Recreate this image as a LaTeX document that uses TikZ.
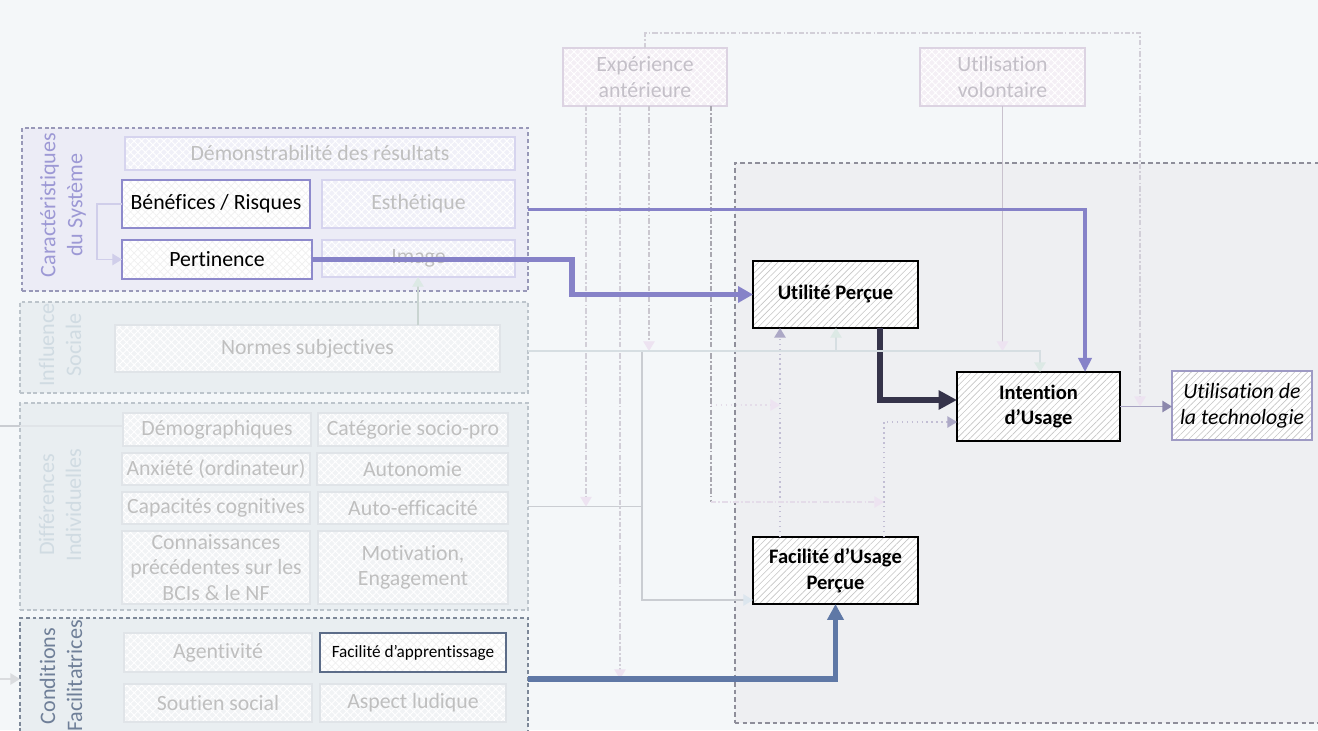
\documentclass[tikz,border=0pt]{standalone}
\usepackage{fontspec}
\setmainfont{Carlito}[Ligatures=NoCommon]
\usetikzlibrary{arrows.meta,patterns,patterns.meta,calc}
\definecolor{bg}{HTML}{F4F7F9}
\definecolor{rgfill}{HTML}{EEEFF2}
\definecolor{rgline}{HTML}{8E8E9A}
\definecolor{carfill}{HTML}{ECECF6}
\definecolor{carline}{HTML}{9898B8}
\definecolor{carlab}{HTML}{9D99D5}
\definecolor{soffill}{HTML}{E9EEF1}
\definecolor{sofline}{HTML}{BCC4CB}
\definecolor{soflab}{HTML}{D0DBE2}
\definecolor{conline}{HTML}{7D8898}
\definecolor{conlab}{HTML}{6F7F98}
\definecolor{paletext}{HTML}{BFBFBF}
\definecolor{paleline}{HTML}{E0E4E8}
\definecolor{palefill}{HTML}{F1F3F5}
\definecolor{carbox}{HTML}{D6D4EE}
\definecolor{carboxfill}{HTML}{F0F0F8}
\definecolor{pinkfill}{HTML}{F4EFF5}
\definecolor{pinkline}{HTML}{DCD3E2}
\definecolor{pinktext}{HTML}{C4C0C8}
\definecolor{purp}{HTML}{8682C8}
\definecolor{dark}{HTML}{35334A}
\definecolor{blu}{HTML}{5F78A6}
\definecolor{hl}{HTML}{8E8ACC}
\definecolor{hltwo}{HTML}{5C6C88}
\definecolor{hatch}{HTML}{C6C6C6}
\definecolor{usebox}{HTML}{9E9AC4}
\definecolor{pinkarrow}{HTML}{EDE3F1}
\definecolor{pinkdash}{HTML}{E4DCE9}
\definecolor{exgray}{HTML}{D2CFD8}
\definecolor{exdark}{HTML}{A9A8B0}
\definecolor{fdot}{HTML}{C2BED4}
\definecolor{farrow}{HTML}{ACA8C6}
\definecolor{normc}{HTML}{D6DEE2}
\definecolor{tealarrow}{HTML}{DCE9E5}
\definecolor{bluearrow}{HTML}{DCE6EE}
\definecolor{greyv}{HTML}{CACDD2}
\definecolor{lavline}{HTML}{D0CEEA}
\definecolor{usearrow}{HTML}{8C88AC}
\definecolor{useline}{HTML}{A7A3C2}
\newcommand\fsN{\fontsize{12.4}{14.6}\selectfont}
\newcommand\fsB{\fontsize{11.7}{14.7}\selectfont\bfseries}
\newcommand\fsS{\fontsize{9.8}{12}\selectfont}
\newcommand\fsL{\fontsize{12.6}{15.4}\selectfont}
\newcommand\bnode[7]{\node[#2, minimum width={(#5-#3)*0.02cm}, minimum height={(#6-#4)*0.02cm}, inner sep=0pt, outer sep=0pt] (#1) at ({(#3+#5)/2},{(#4+#6)/2}) {#7};}
\begin{document}
\begin{tikzpicture}[x=0.02cm,y=-0.02cm,
  grp/.style={draw=#1, line width=0.6pt, dash pattern=on 2.2pt off 1.6pt},
  pbox/.style={draw=paleline, line width=0.6pt, preaction={fill=palefill}, pattern={Hatch[angle=45,distance=3pt,line width=0.5pt]}, pattern color=white, text=paletext, font=\fsN, align=center},
  cbox/.style={draw=carbox, line width=0.6pt, preaction={fill=carboxfill}, pattern={Hatch[angle=45,distance=3pt,line width=0.5pt]}, pattern color=white, text=paletext, font=\fsN, align=center},
  xbox/.style={draw=pinkline, line width=0.6pt, preaction={fill=pinkfill}, pattern={Hatch[angle=45,distance=3pt,line width=0.5pt]}, pattern color=white, text=pinktext, font=\fsN, align=center},
  hbox/.style={draw=#1, line width=0.8pt, preaction={fill=white}, pattern={Hatch[angle=45,distance=3pt,line width=0.4pt]}, pattern color=black!6, text=black, align=center},
  mbox/.style={draw=black, line width=0.8pt, preaction={fill=white}, pattern={Lines[angle=45,distance=2.6pt,line width=0.35pt]}, pattern color=hatch, text=black, font=\fsB, align=center},
  glab/.style={rotate=90, align=center, font=\fsL, text=#1},
  ptip/.style={-{Triangle[length=5.5pt,width=6.5pt,color=#1]}},
  dashdot/.style={dash pattern=on 3pt off 1.2pt on 1pt off 1.2pt},
]
\useasboundingbox (0,0) rectangle (1318,730);
\fill[bg] (0,0) rectangle (1318,730);
\begin{scope}
\clip (0,0) rectangle (1318,730);
% right container
\bnode{cont}{draw=rgline, fill=rgfill, line width=0.7pt, dash pattern=on 2.5pt off 1.8pt}{735}{163}{1340}{723}{}
% groups
\bnode{carac}{grp=carline, fill=carfill}{22}{128}{528}{291}{}
\bnode{infl}{grp=sofline, fill=soffill}{20}{302}{528}{393}{}
\bnode{difs}{grp=sofline, fill=soffill}{20}{403}{528}{610}{}
\bnode{cond}{grp=conline, fill=soffill}{20}{618}{528}{740}{}
\node[glab=carlab] (lcar) at (63,205) {Caractéristiques\\du Système};
\node[glab=soflab] (linf) at (60,345) {Influence\\Sociale};
\node[glab=soflab] (ldif) at (60,505) {Différences\\Individuelles};
\node[glab=conlab] (lcon) at (61,676) {Conditions\\Facilitatrices};
% boxes
\bnode{demo}{cbox}{125}{137}{515}{170}{Démonstrabilité des résultats}
\bnode{benef}{hbox=hl, font=\fsN}{122}{180}{310}{228}{Bénéfices / Risques}
\bnode{esth}{cbox}{322}{180}{515}{228}{Esthétique}
\bnode{pert}{hbox=hl, font=\fsN}{122}{240}{312}{279}{Pertinence}
\bnode{image}{cbox}{322}{240}{515}{277}{Image}
\bnode{normes}{pbox}{115}{325}{500}{372}{Normes subjectives}
\bnode{demog}{pbox}{123}{413}{311}{446}{Démographiques}
\bnode{categ}{pbox}{318}{413}{508}{446}{Catégorie socio-pro}
\bnode{anx}{pbox}{122}{453}{310}{485}{Anxiété (ordinateur)}
\bnode{auton}{pbox}{317}{453}{508}{485}{Autonomie}
\bnode{capac}{pbox}{122}{492}{310}{524}{Capacités cognitives}
\bnode{autoeff}{pbox}{318}{492}{508}{524}{Auto-efficacité}
\bnode{conn}{pbox}{122}{531}{310}{604}{Connaissances\\précédentes sur les\\BCIs \& le NF}
\bnode{motiv}{pbox}{318}{531}{508}{604}{Motivation,\\Engagement}
\bnode{agent}{pbox}{124}{633}{312}{672}{Agentivité}
\bnode{facapp}{hbox=hltwo, font=\fsS}{320}{633}{506}{672}{Facilité d’apprentissage}
\bnode{soutien}{pbox}{124}{684}{312}{722}{Soutien social}
\bnode{ludique}{pbox}{320}{684}{506}{722}{Aspect ludique}
\bnode{exper}{xbox}{563}{48}{727}{106}{Expérience\\antérieure}
\bnode{volont}{xbox}{920}{48}{1085}{106}{Utilisation\\volontaire}
\bnode{util}{mbox}{753}{261}{918}{328}{Utilité Perçue}
\bnode{intent}{mbox}{957}{372}{1120}{441}{Intention\\d’Usage}
\bnode{usage}{mbox, draw=usebox, font=\fsN\itshape}{1172}{371}{1312}{440}{Utilisation de\\la technologie}
\bnode{facil}{mbox}{753}{537}{918}{604}{Facilité d’Usage\\Perçue}
% helper coordinates
\coordinate (nl) at ($(infl.east)+(0,3.5)$);
\coordinate (vx) at ($(nl)+(114,0)$);
\coordinate (in1) at ($(intent.north west)+(83,0)$);
\coordinate (ut1) at ($(util.south west)+(83,0)$);
\coordinate (fa1) at ($(facil.south west)+(0,-4)$);
\coordinate (fu) at ($(facil.north west)+(27,0)$);
\coordinate (fi) at ($(facil.north west)+(131,0)$);
\coordinate (ia) at ($(intent.south west)+(0,-19)$);
\coordinate (uo) at ($(util.south west)+(127,0)$);
\coordinate (ib) at ($(intent.north west)+(0,28)$);
\coordinate (pc) at ($(pert.east)+(260,0)$);
\coordinate (ic) at ($(intent.north west)+(128,0)$);
\coordinate (ni) at ($(image.south west)+(96,0)$);
\coordinate (m1) at ($(intent.east)!0.385!(usage.west)$);
\coordinate (e1) at ($(exper.south west)+(23,0)$);
\coordinate (e2) at ($(exper.south west)+(57,0)$);
\coordinate (e3) at ($(exper.south west)+(86,0)$);
\coordinate (e4) at ($(exper.south west)+(148,0)$);
\coordinate (p502) at ($(fi)+(0,-35)$);
\coordinate (p405) at ($(fu)+(0,-132)$);
\coordinate (L1) at (0,426);
\coordinate (L2) at (0,679);
% pale connectors
\draw[lavline, line width=0.7pt, ptip=lavline] (benef.west) -- ++(-25,0) |- (pert.west);
\draw[tealarrow!80!gray, line width=0.7pt, ptip=tealarrow] (ni |- normes.north) -- (ni);
\draw[greyv, line width=0.8pt] (L1) -- (L1 -| difs.west);
\draw[paleline, line width=0.7pt] (L1 -| difs.west) -- (L1 -| demog.west);
\draw[greyv!70, line width=0.8pt, ptip=greyv!70] (L2) -- (cond.west);
\draw[greyv, line width=0.7pt] (difs.east) -- (difs.east -| vx);
\draw[greyv, line width=0.7pt, ptip=bluearrow] (vx) |- (fa1);
\draw[normc, line width=0.7pt, ptip=tealarrow] (ut1 |- nl) -- (ut1);
\draw[pinkline!80!gray, line width=0.7pt, ptip=pinkarrow] (volont.south) -- (volont.south |- nl);
\draw[fdot, line width=0.8pt, dotted, ptip=farrow] (fu) -- (fu |- util.south);
\draw[fdot, line width=0.8pt, dotted, ptip=farrow] (fi) |- (ia);
\draw[useline, line width=0.8pt, ptip=usearrow] (intent.east) -- (intent.east -| usage.west);
% experience lines
\draw[exgray, line width=0.7pt, dashdot, ptip=pinkarrow] (exper.north) -- ++(0,-15) -| (m1);
\draw[exgray, line width=0.7pt, dashdot, ptip=pinkarrow] (e1) -- (e1 |- difs.east);
\draw[exgray, line width=0.7pt, dashdot, ptip=pinkarrow] (e2) -- (e2 |- cond.east);
\draw[exgray!90!gray, line width=0.7pt, dashdot, ptip=pinkarrow] (e3) -- (e3 |- nl);
\draw[exdark, line width=0.8pt, dashdot] (e4) -- (e4 |- p502);
\draw[pinkdash, line width=0.8pt, dashdot, ptip=pinkarrow] (e4 |- p502) -- (p502);
\draw[pinkdash, line width=0.8pt, dotted, ptip=pinkarrow] (e4 |- p405) -- (p405);
% strong connectors
\draw[dark, line width=2.9pt, -{Triangle[length=10.5pt,width=10.5pt]}] (uo) |- (ib);
\draw[normc, line width=0.8pt, ptip=tealarrow] (nl) -| (in1);
\draw[purp, line width=2.9pt, -{Triangle[length=8.5pt,width=9pt]}] (pert.east) -- (pc) |- (util.west);
\draw[purp, line width=1.9pt, -{Triangle[length=8pt,width=7.5pt]}] (carac.east) -| (ic);
\draw[blu, line width=2.9pt, -{Triangle[length=9pt,width=9pt]}] (cond.east) -| (facil.south);
\end{scope}
\end{tikzpicture}
\end{document}
